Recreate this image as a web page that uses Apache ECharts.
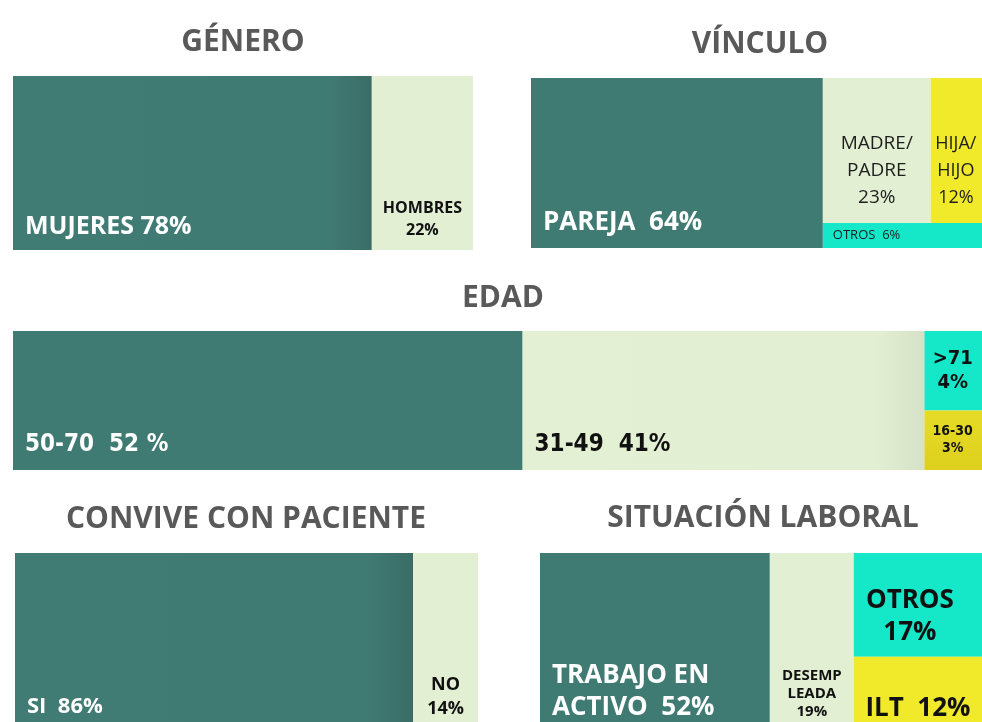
<!DOCTYPE html>
<html>
<head>
<meta charset="utf-8">
<script src="https://cdn.jsdelivr.net/npm/echarts@6/dist/echarts.min.js"></script>
<style>
  html, body { margin: 0; background: #fff; }
  #chart { width: 982px; height: 722px; }
</style>
</head>
<body>
<div id="chart"></div>
<script>
// --- data (percentages) ---
const generoNames = ["MUJERES", "HOMBRES"];
const generoValues = [78, 22];

const vinculoNames = ["PAREJA", "MADRE/\nPADRE", "HIJA/\nHIJO", "OTROS"];
const vinculoValues = [64, 23, 12, 6];

const edadNames = ["50-70", "31-49", ">71", "16-30"];
const edadValues = [52, 41, 4, 3];

const conviveNames = ["SI", "NO"];
const conviveValues = [86, 14];

const laboralNames = ["TRABAJO EN\nACTIVO", "DESEMP\nLEADA", "OTROS", "ILT"];
const laboralValues = [52, 19, 17, 12];

// --- colours ---
const TEAL = "#407b73";
const TEAL_SHADE = new echarts.graphic.LinearGradient(0, 0, 1, 0, [
  { offset: 0, color: "#417c74" }, { offset: 0.88, color: "#407b73" }, { offset: 1, color: "#3a6d66" }
]);
const LIGHT = "#e2efd3";
const LIGHT_SHADE = new echarts.graphic.LinearGradient(0, 0, 1, 0, [
  { offset: 0, color: "#e3f0d4" }, { offset: 0.88, color: "#e2efd2" }, { offset: 1, color: "#d6e2c7" }
]);
const CYAN = "#15e7c9";
const YELLOW = "#f0ea2a";
const YELLOW_DARK = new echarts.graphic.LinearGradient(0, 0, 0, 1, [
  { offset: 0, color: "#e6dc26" }, { offset: 1, color: "#ddd01e" }
]);

const SANS = '"Open Sans", sans-serif';
const COND = '"DejaVu Sans Condensed", "Open Sans", sans-serif';

// first `lead` items are full-height columns; the rest share what is left,
// stacked in rows (each row split side by side)
function layout(values, lead, rows) {
  const cells = [];
  let x = 0;
  for (let i = 0; i < lead; i++) {
    cells[i] = [x, x + values[i], 0, 100];
    x += values[i];
  }
  if (rows) {
    const total = rows.flat().reduce((s, i) => s + values[i], 0);
    let top = 100;
    rows.forEach(row => {
      const rs = row.reduce((s, i) => s + values[i], 0);
      const h = 100 * rs / total;
      let cx = x;
      row.forEach(i => {
        const w = (100 - x) * values[i] / rs;
        cells[i] = [cx, cx + w, top - h, top];
        cx += w;
      });
      top -= h;
    });
  }
  return cells;
}

// the slide is cropped on the right and bottom, so some grids run past the canvas
const panels = [
  {
    title: "GÉNERO", tx: 243, ty: 42,
    grid: { left: 13, top: 76, width: 460, height: 174 },
    names: generoNames, values: generoValues, lead: 2, rows: null,
    styles: [
      { fill: TEAL_SHADE, color: "#fff", size: 25, pos: "bl", inset: [12, 8], lh: 30, sep: " " },
      { fill: LIGHT, color: "#111", size: 16, pos: "bc", inset: 9, lh: 22, sep: "\n" },
    ],
  },
  {
    title: "VÍNCULO", tx: 760, ty: 44,
    grid: { left: 531, top: 78, width: 456, height: 170 },
    names: vinculoNames, values: vinculoValues, lead: 1, rows: [[1, 2], [3]],
    styles: [
      { fill: TEAL, color: "#fff", size: 26, pos: "bl", inset: [12, 10], lh: 31, sep: "  " },
      { fill: LIGHT, color: "#1e1e1e", size: 19, weight: "normal", pos: "bc", inset: 12, lh: 27, sep: "\n" },
      { fill: YELLOW, color: "#1e1e1e", size: 18, weight: "normal", pos: "bc", dx: -3, inset: 12, lh: 27, sep: "\n" },
      { fill: CYAN, color: "#1e1e1e", size: 13, weight: "normal", pos: "l", inset: 10, lh: 15, sep: "  " },
    ],
  },
  {
    title: "EDAD", tx: 503, ty: 298,
    grid: { left: 13, top: 331, width: 980, height: 139 },
    names: edadNames, values: edadValues, lead: 2, rows: [[2], [3]],
    styles: [
      { fill: TEAL, color: "#fff", size: 24, font: COND, pos: "bl", inset: [12, 11], lh: 29, sep: "  ", pct: " %" },
      { fill: LIGHT_SHADE, color: "#111", size: 24, font: COND, pos: "bl", inset: [12, 11], lh: 29, sep: "  " },
      { fill: CYAN, color: "#111", size: 20, font: COND, pos: "c", dx: -6, lh: 24, sep: "\n" },
      { fill: YELLOW_DARK, color: "#111", size: 14, font: COND, pos: "c", dx: -6, lh: 17, sep: "\n" },
    ],
  },
  {
    title: "CONVIVE CON PACIENTE", tx: 246, ty: 519,
    grid: { left: 15, top: 553, width: 463, height: 177 },
    names: conviveNames, values: conviveValues, lead: 2, rows: null,
    styles: [
      { fill: TEAL_SHADE, color: "#fff", size: 22, pos: "bl", inset: [12, 10], lh: 26, sep: "  " },
      { fill: LIGHT, color: "#111", size: 18, pos: "bc", inset: 9, lh: 24, sep: "\n" },
    ],
  },
  {
    title: "SITUACIÓN LABORAL", tx: 763, ty: 518,
    grid: { left: 540, top: 553, width: 442, height: 177 },
    names: laboralNames, values: laboralValues, lead: 2, rows: [[2], [3]],
    styles: [
      { fill: TEAL, color: "#fff", size: 26, pos: "bl", inset: [12, 6], lh: 32, sep: "  " },
      { fill: LIGHT, color: "#111", size: 15, pos: "bc", inset: 9, lh: 18, sep: "\n" },
      { fill: CYAN, color: "#111", size: 26, pos: "bc", dx: -8, inset: 8, lh: 32, sep: "\n" },
      { fill: YELLOW, color: "#111", size: 26, pos: "bc", inset: 6, lh: 31, sep: "  " },
    ],
  },
];

function makeRender(styles) {
  return function (params, api) {
    const st = styles[api.value(4)];
    const p0 = api.coord([api.value(0), api.value(3)]);
    const p1 = api.coord([api.value(1), api.value(2)]);
    const x = p0[0], y = p0[1], w = p1[0] - p0[0], h = p1[1] - p0[1];
    const dx = st.dx || 0;

    let tx, ty, align, va;
    if (st.pos === "bl") {
      tx = x + st.inset[0]; ty = y + h - st.inset[1]; align = "left"; va = "bottom";
    } else if (st.pos === "bc") {
      tx = x + w / 2 + dx; ty = y + h - st.inset; align = "center"; va = "bottom";
    } else if (st.pos === "l") {
      tx = x + st.inset; ty = y + h / 2; align = "left"; va = "middle";
    } else {
      tx = x + w / 2 + dx; ty = y + h / 2; align = "center"; va = "middle";
    }

    return {
      type: "group",
      children: [
        { type: "rect", shape: { x, y, width: w, height: h }, style: { fill: st.fill } },
        {
          type: "text",
          style: {
            text: st.label, x: tx, y: ty, align, verticalAlign: va,
            fill: st.color, fontSize: st.size, fontWeight: st.weight || "bold",
            fontFamily: st.font || SANS, lineHeight: st.lh,
          },
        },
      ],
    };
  };
}

const grids = [], xAxes = [], yAxes = [], titles = [], series = [];
panels.forEach((p, k) => {
  grids.push(Object.assign({ outerBoundsMode: "none", containLabel: false }, p.grid));
  xAxes.push({ type: "value", gridIndex: k, min: 0, max: 100, show: false });
  yAxes.push({ type: "value", gridIndex: k, min: 0, max: 100, show: false });
  titles.push({
    text: p.title, left: p.tx, top: p.ty, padding: 0,
    textAlign: "center", textVerticalAlign: "middle",
    textStyle: { fontFamily: SANS, fontWeight: "bold", fontSize: 30, color: "#595959" },
  });
  p.styles.forEach((st, i) => {
    st.label = p.names[i] + st.sep + p.values[i] + (st.pct || "%");
  });
  const cells = layout(p.values, p.lead, p.rows);
  series.push({
    type: "custom",
    xAxisIndex: k, yAxisIndex: k,
    renderItem: makeRender(p.styles),
    data: cells.map((c, i) => [c[0], c[1], c[2], c[3], i]),
    silent: true,
    animation: false,
  });
});

const chart = echarts.init(document.getElementById("chart"));
chart.setOption({
  backgroundColor: "#fff",
  animation: false,
  title: titles,
  grid: grids,
  xAxis: xAxes,
  yAxis: yAxes,
  series,
});
</script>
</body>
</html>
